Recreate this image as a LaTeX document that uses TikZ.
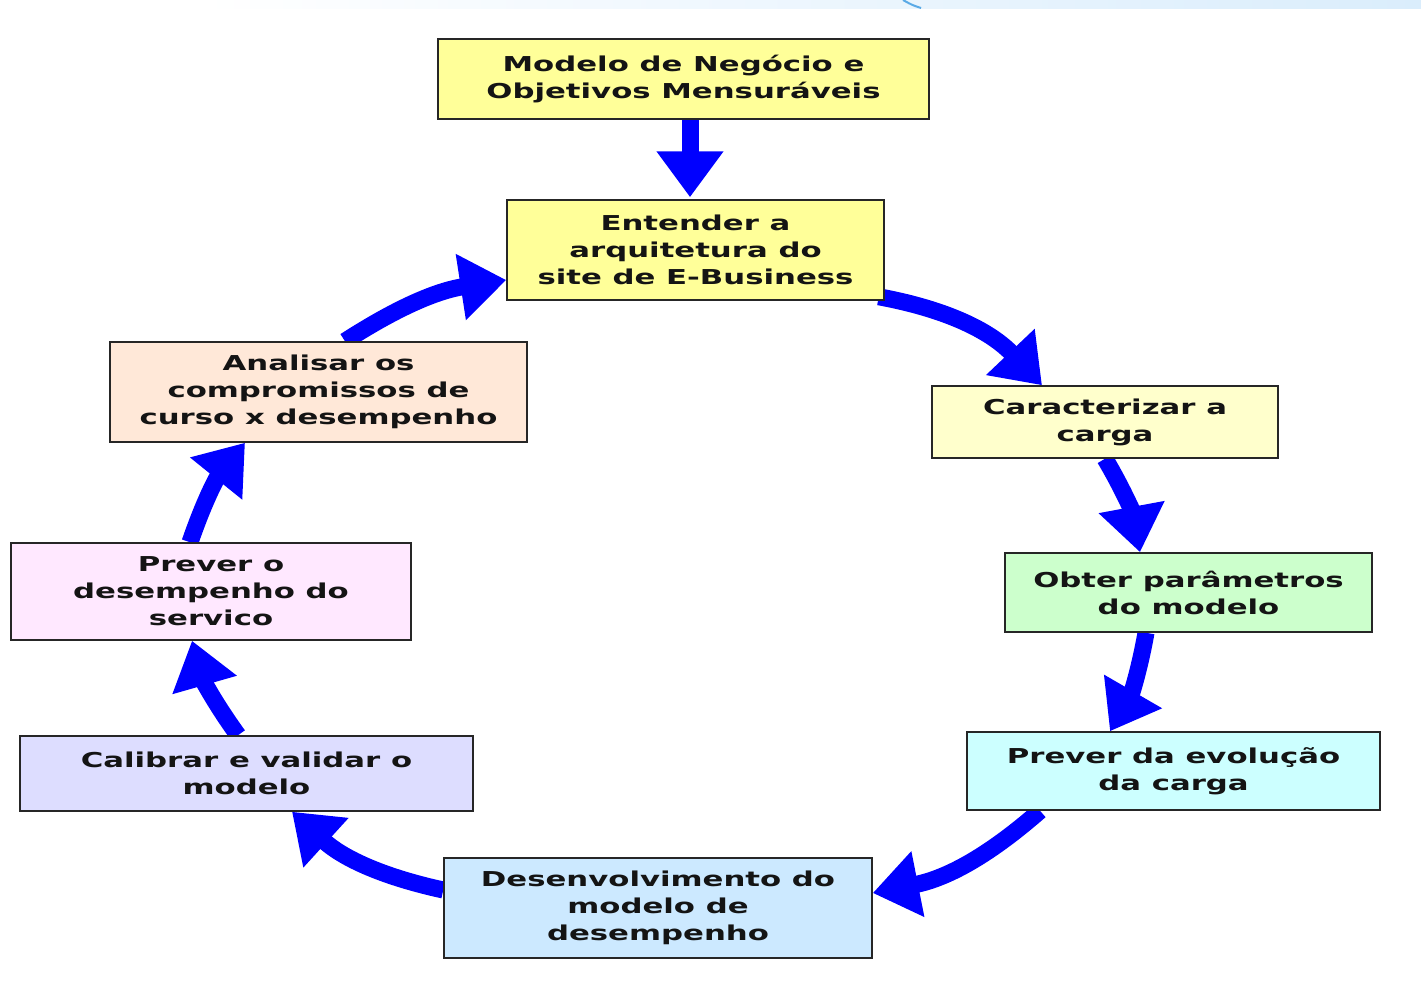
\documentclass[tikz,border=0pt]{standalone}
\usepackage{fontspec}
\setmainfont{DejaVu Sans}[FakeStretch=1.5]
\usetikzlibrary{arrows.meta,backgrounds}
\definecolor{arrowblue}{RGB}{0,0,255}
\definecolor{cYel}{RGB}{255,255,153}
\definecolor{cPale}{RGB}{255,255,204}
\definecolor{cGreen}{RGB}{204,255,204}
\definecolor{cCyan}{RGB}{204,255,255}
\definecolor{cBlue}{RGB}{204,233,255}
\definecolor{cLav}{RGB}{221,221,255}
\definecolor{cPink}{RGB}{255,232,255}
\definecolor{cPeach}{RGB}{255,232,216}
\definecolor{bandblue}{RGB}{218,237,252}
\definecolor{txt}{RGB}{20,20,20}
\tikzset{
  box/.style={draw=black!85, line width=1.5pt, inner sep=0pt, align=center,
    text=txt, font=\fontsize{20.5}{27}\selectfont\bfseries},
  bigarrow/.style={draw=arrowblue, line width=17pt,
    -{Triangle[width=64pt,length=46pt]}}
}
\begin{document}
\begin{tikzpicture}[x=1pt,y=-1pt]
\useasboundingbox (0,0) rectangle (1421,999);
\shade[left color=white, right color=bandblue] (200,0) rectangle (1421,8);
\draw[line width=2pt, color={rgb,255:red,90;green,170;blue,230}] (903,0) .. controls (912,5) .. (921,8);

\node[box, fill=cYel, minimum width=491pt, minimum height=80pt] (modelo) at (683.5,79)
  {Modelo de Negócio e\\Objetivos Mensuráveis};
\node[box, fill=cYel, minimum width=377pt, minimum height=100pt] (entender) at (695.5,250)
  {Entender a\\arquitetura do\\site de E-Business};
\node[box, fill=cPale, minimum width=346pt, minimum height=72pt] (carac) at (1105,422)
  {Caracterizar a\\carga};
\node[box, fill=cGreen, minimum width=367pt, minimum height=79pt] (obter) at (1188.5,592.5)
  {Obter parâmetros\\do modelo};
\node[box, fill=cCyan, minimum width=413pt, minimum height=78pt] (prevevol) at (1173.5,771)
  {Prever da evolução\\da carga};
\node[box, fill=cBlue, minimum width=428pt, minimum height=100pt] (desenv) at (658,908)
  {Desenvolvimento do\\modelo de\\desempenho};
\node[box, fill=cLav, minimum width=453pt, minimum height=75pt] (calib) at (246.5,773.5)
  {Calibrar e validar o\\modelo};
\node[box, fill=cPink, minimum width=400pt, minimum height=97pt] (preverO) at (211,591.5)
  {Prever o\\desempenho do\\servico};
\node[box, fill=cPeach, minimum width=417pt, minimum height=100pt] (analisar) at (318.5,392)
  {Analisar os\\compromissos de\\curso x desempenho};

\begin{scope}[on background layer]
\draw[bigarrow] ([xshift=6.5pt,yshift=2pt]modelo.south) -- ([xshift=-5.5pt,yshift=2pt]entender.north);
\draw[bigarrow] ([xshift=-6pt,yshift=4pt]entender.south east) to[bend left=18] ([xshift=-63pt]carac.north);
\draw[bigarrow] (carac.south) to[bend left=10] ([xshift=-48.5pt]obter.north);
\draw[bigarrow] ([xshift=-42.5pt]obter.south) to[bend left=10] ([xshift=-63.5pt]prevevol.north);
\draw[bigarrow] ([xshift=-133.5pt]prevevol.south) to[bend left=15] ([yshift=15pt]desenv.east);
\draw[bigarrow] ([yshift=18pt]desenv.west) to[bend left=15] ([xshift=45.5pt]calib.south);
\draw[bigarrow] ([xshift=-8.5pt]calib.north) to[bend left=10] ([xshift=-19pt]preverO.south);
\draw[bigarrow] ([xshift=-21pt]preverO.north) to[bend left=10] ([xshift=-73.5pt]analisar.south);
\draw[bigarrow] ([xshift=26.5pt]analisar.north) to[bend left=12] ([yshift=-30pt]entender.west);
\end{scope}
\end{tikzpicture}
\end{document}
